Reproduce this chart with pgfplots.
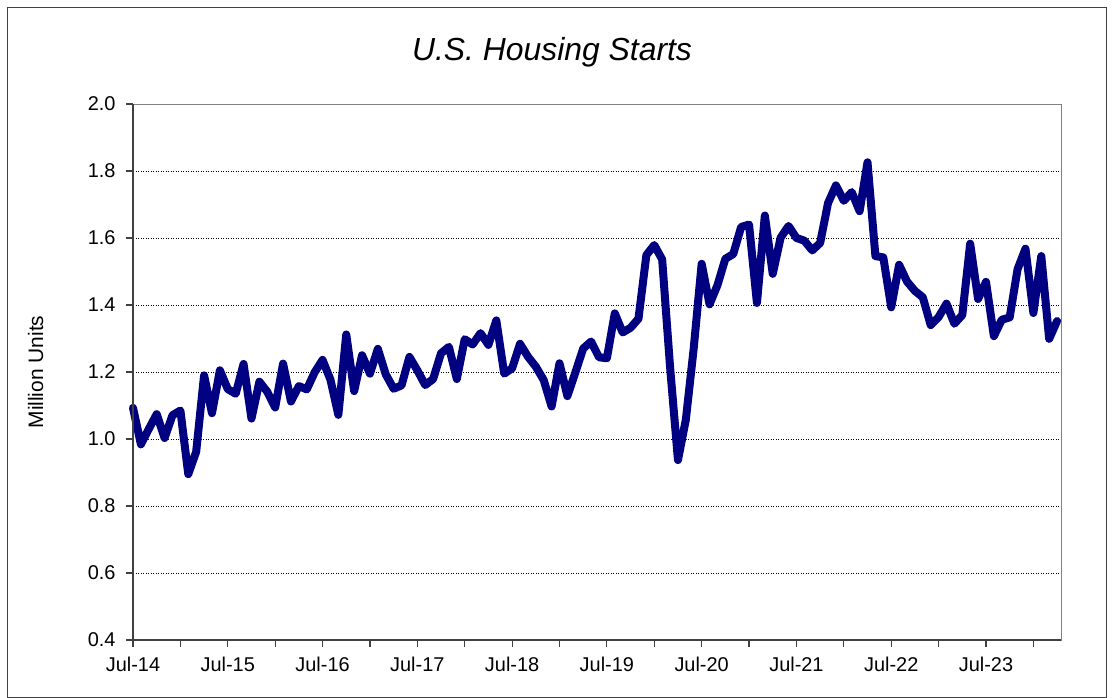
\documentclass[border=0pt]{standalone}
\usepackage{fontspec}
\setmainfont{Liberation Sans}
\usepackage{pgfplots}
\pgfplotsset{compat=1.18}
\definecolor{navyline}{RGB}{0,0,128}
\definecolor{axisgray}{RGB}{64,64,64}
\begin{document}
\begin{tikzpicture}[x=1bp,y=1bp]
\path[use as bounding box] (0,0) rectangle (1113,698);
\draw[color=axisgray, line width=1bp] (7.5,0.5) rectangle (1106.5,690.5);
\node[font=\fontsize{32}{38}\selectfont\itshape] at (552,646) {U.S. Housing Starts};
\begin{axis}[
  at={(133bp,58bp)}, anchor=south west,
  scale only axis, width=928bp, height=536bp,
  xmin=0, xmax=117.5, ymin=0.4, ymax=2.0,
  clip=false,
  axis line style={draw=gray, line width=0.75bp},
  tick align=outside, xtick pos=bottom, ytick pos=left,
  major tick length=7bp,
  tick style={color=axisgray, line width=1.2bp},
  ymajorgrids,
  grid style={black, line width=0.7bp, dash pattern=on 1bp off 1.5bp},
  xtick={0,6,...,114},
  xticklabels={Jul-14,,Jul-15,,Jul-16,,Jul-17,,Jul-18,,Jul-19,,Jul-20,,Jul-21,,Jul-22,,Jul-23,},
  ytick={0.4,0.6,0.8,1.0,1.2,1.4,1.6,1.8,2.0},
  yticklabel style={xshift=-7bp, /pgf/number format/.cd, fixed, fixed zerofill, precision=1},
  xticklabel style={yshift=-7bp},
  /pgf/number format/assume math mode=true,
  tick label style={font=\fontsize{20}{24}\selectfont},
  ylabel={Million Units},
  ylabel style={font=\fontsize{21}{25}\selectfont, at={(axis description cs:-0.105,0.5)}, anchor=center},
]
\addplot[color=navyline, line width=8bp, line join=round, line cap=round] table {
x y
0 1.093
1 0.984
2 1.030
3 1.074
4 1.003
5 1.071
6 1.085
7 0.895
8 0.962
9 1.190
10 1.077
11 1.205
12 1.149
13 1.135
14 1.224
15 1.061
16 1.171
17 1.141
18 1.094
19 1.225
20 1.112
21 1.158
22 1.148
23 1.199
24 1.236
25 1.177
26 1.072
27 1.312
28 1.143
29 1.250
30 1.195
31 1.269
32 1.193
33 1.150
34 1.160
35 1.245
36 1.205
37 1.161
38 1.179
39 1.256
40 1.275
41 1.179
42 1.298
43 1.282
44 1.316
45 1.281
46 1.354
47 1.195
48 1.211
49 1.284
50 1.246
51 1.216
52 1.176
53 1.097
54 1.226
55 1.128
56 1.198
57 1.270
58 1.291
59 1.244
60 1.241
61 1.375
62 1.318
63 1.332
64 1.359
65 1.549
66 1.579
67 1.536
68 1.215
69 0.937
70 1.058
71 1.272
72 1.523
73 1.402
74 1.459
75 1.538
76 1.552
77 1.633
78 1.640
79 1.406
80 1.667
81 1.493
82 1.601
83 1.636
84 1.600
85 1.592
86 1.563
87 1.585
88 1.704
89 1.757
90 1.711
91 1.737
92 1.680
93 1.826
94 1.546
95 1.542
96 1.393
97 1.520
98 1.470
99 1.442
100 1.423
101 1.340
102 1.364
103 1.404
104 1.344
105 1.370
106 1.583
107 1.418
108 1.469
109 1.307
110 1.356
111 1.363
112 1.507
113 1.568
114 1.376
115 1.546
116 1.299
117 1.352
};
\draw[color=axisgray, line width=2bp] (rel axis cs:0,1) -- (rel axis cs:0,0) -- (rel axis cs:1,0);
\end{axis}
\end{tikzpicture}
\end{document}
